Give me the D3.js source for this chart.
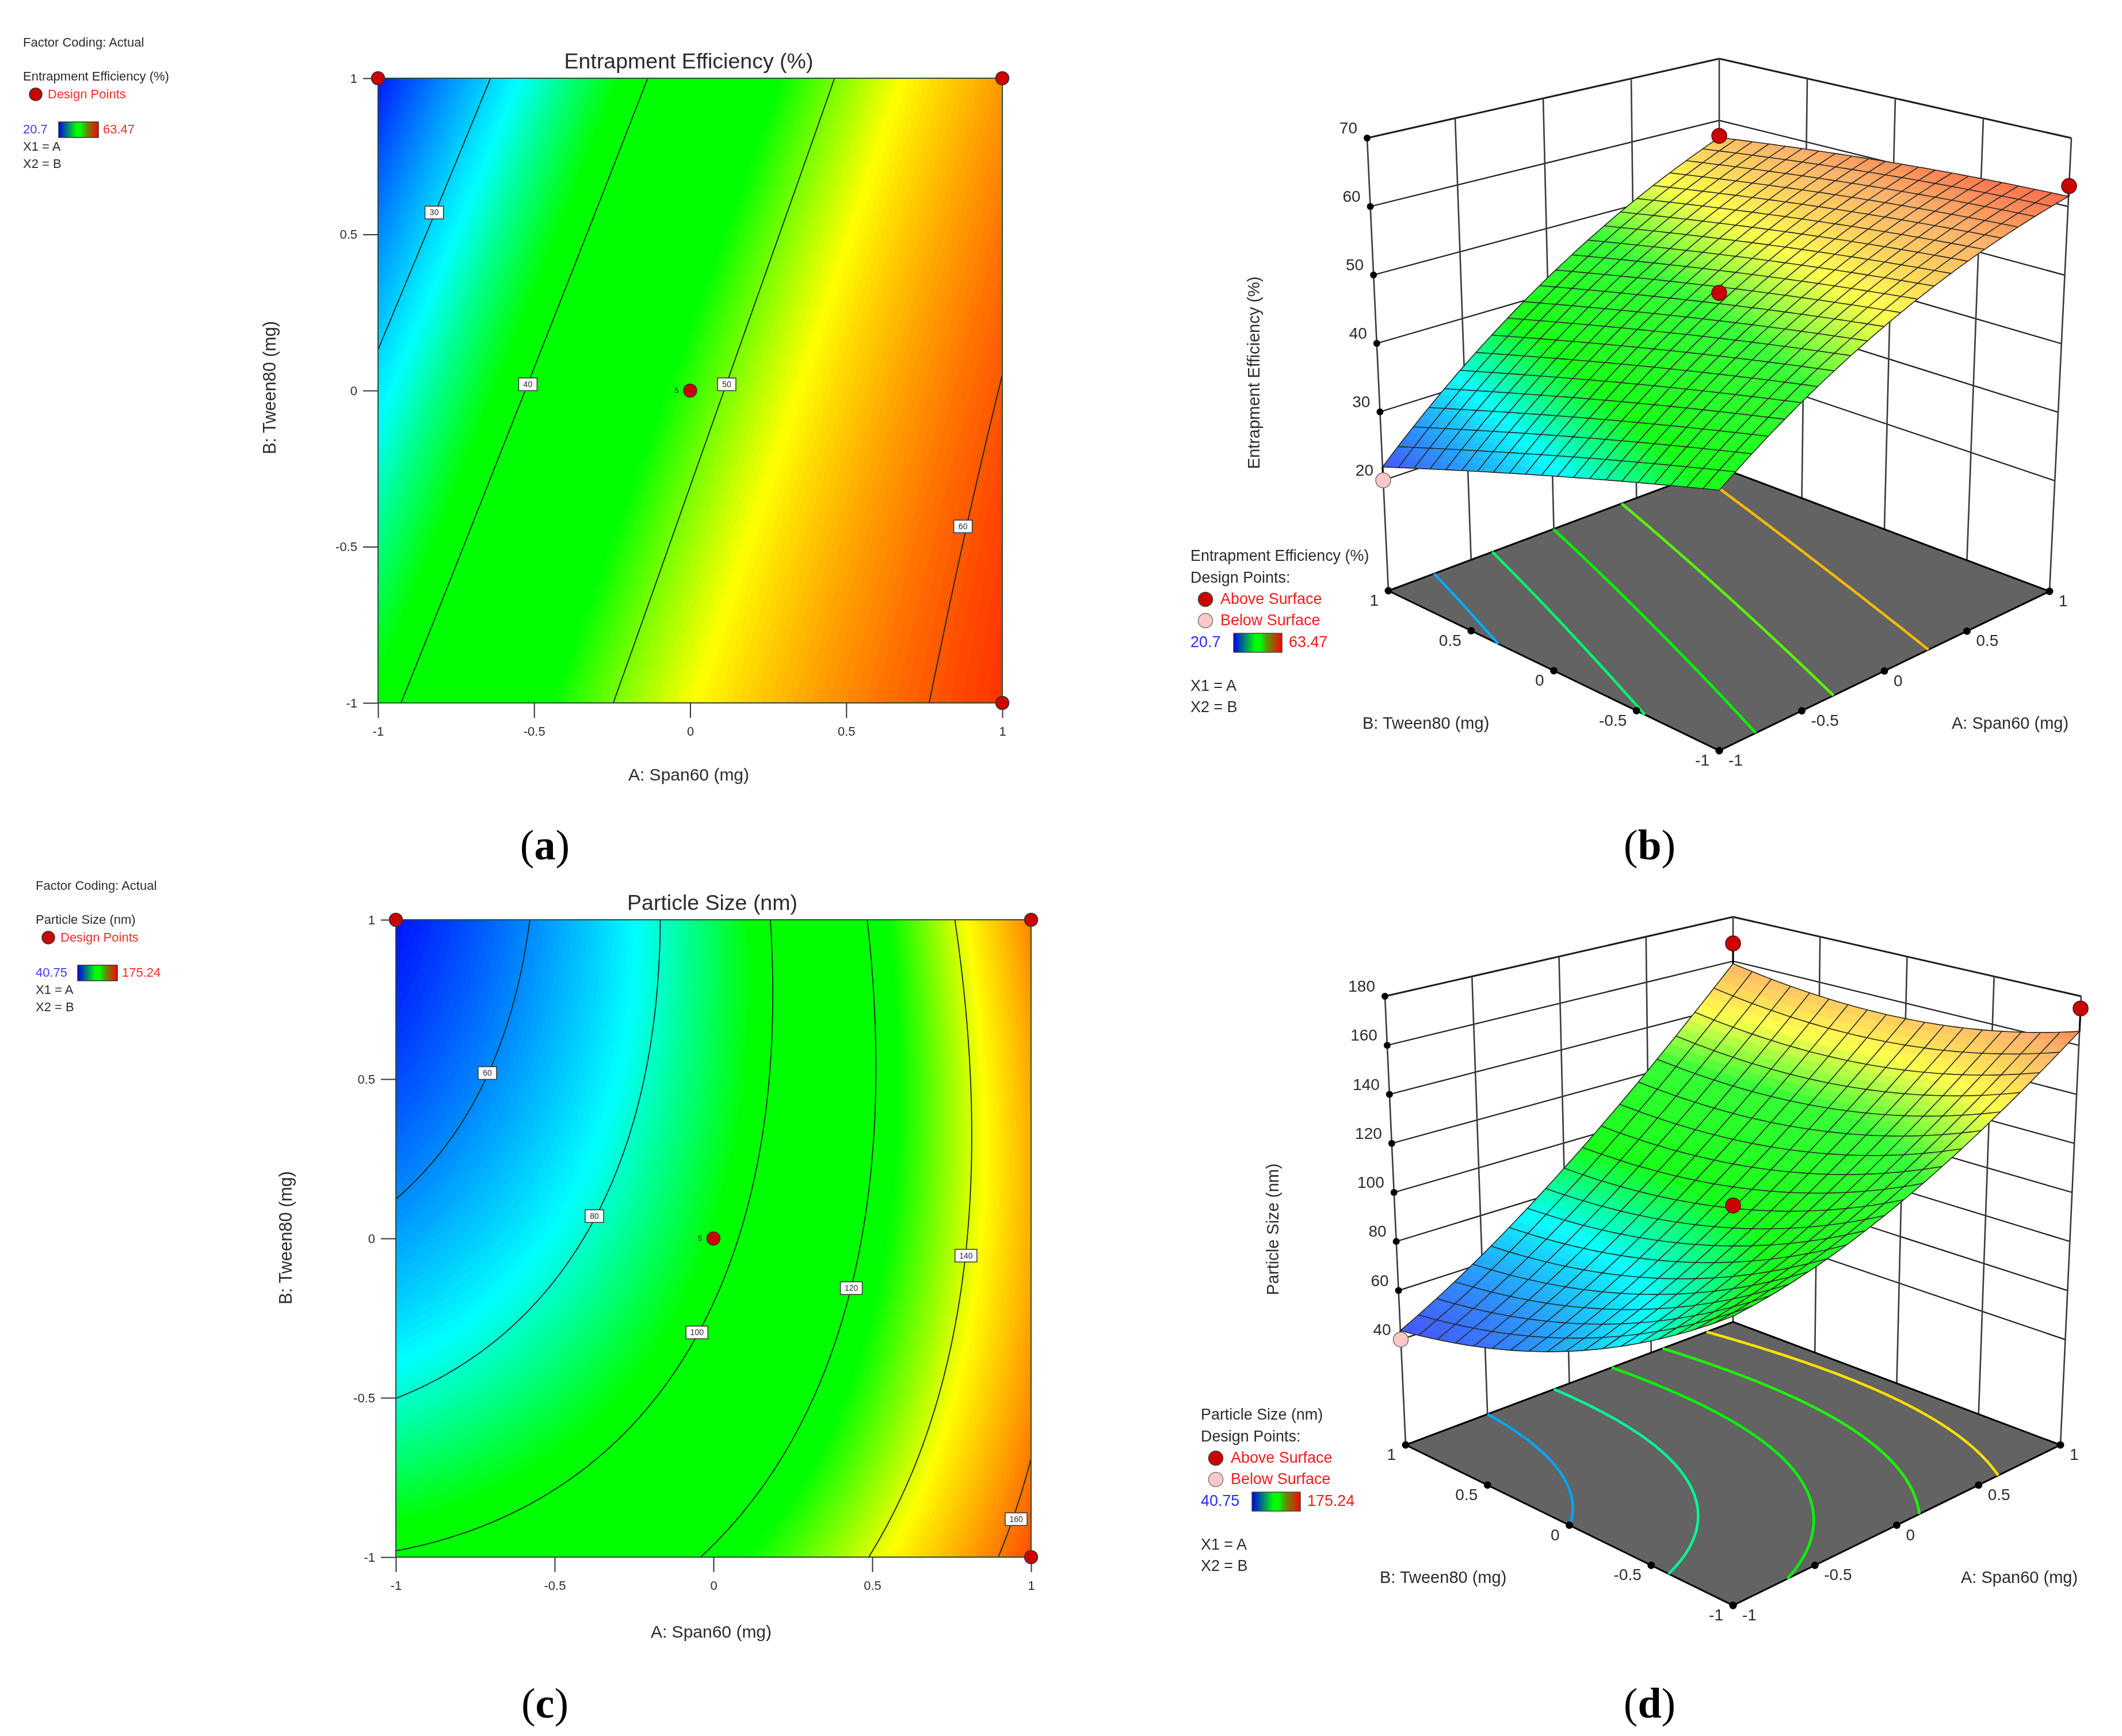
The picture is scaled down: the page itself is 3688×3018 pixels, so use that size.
<!DOCTYPE html>
<html>
<head>
<meta charset="utf-8">
<title>Response surfaces</title>
<script src="https://cdn.jsdelivr.net/npm/d3@7"></script>
<style>
  html, body { margin: 0; padding: 0; background: #fff; }
  svg { display: block; filter: blur(0.7px); }
  text { font-family: "Liberation Sans", Arial, sans-serif; fill: #2b2b2b; }
</style>
</head>
<body>
<div id="chart"></div>
<script>
// Factor levels of the table rows/columns (coded units)
const factorLevels = [-1, -0.5, 0, 0.5, 1];

// Responses. Rows: B = -1 .. 1, columns: A = -1 .. 1
const efficiencyGrid = [
  [38.76, 46.58, 52.97, 57.94, 61.48],
  [35.12, 43.72, 50.90, 56.65, 60.98],
  [31.11, 40.50, 48.46, 55.00, 60.11],
  [26.72, 36.89, 45.64, 52.96, 58.86],
  [21.96, 32.92, 42.45, 50.56, 57.24]
];
const sizeGrid = [
  [100.9, 108.1, 121.3, 140.5, 165.7],
  [79.93, 90.28, 106.63, 128.98, 157.33],
  [63.4, 76.9, 96.4, 121.9, 153.4],
  [51.33, 67.98, 90.63, 119.28, 153.93],
  [43.7, 63.5, 89.3, 121.1, 158.9]
];

const efficiencyContours = [30, 40, 50, 60];
const sizeContours = [60, 80, 100, 120, 140, 160];
const efficiencyFloorLevels = [28.2, 35.5, 42.4, 49.2, 55.8];
const sizeFloorLevels = [63.5, 84, 105, 126, 146];

// Contour label spots: [A, B, text]
const efficiencyLabels = [[-0.82, 0.57, "30"], [-0.52, 0.02, "40"], [0.117, 0.02, "50"], [0.874, -0.435, "60"]];
const sizeLabels = [[-0.712, 0.519, "60"], [-0.375, 0.07, "80"], [-0.052, -0.295, "100"], [0.434, -0.156, "120"], [0.795, -0.054, "140"], [0.953, -0.881, "160"]];

const designPoints = [[-1, 1], [1, 1], [1, -1], [0, 0]];

// Design points in the 3D views: [A, B, response, above surface?]
const efficiencyPoints3d = [[1, 1, 57.5, true], [1, -1, 63, true], [0, 0, 48.8, true], [-1, 1, 20, false]];
const sizePoints3d = [[1, 1, 168, true], [1, -1, 175, true], [0, 0, 97.5, true], [-1, 1, 40, false]];

const efficiencyTicks = [20, 30, 40, 50, 60, 70];
const sizeTicks = [40, 60, 80, 100, 120, 140, 160, 180];

// Colour ramp of the response (fraction of the legend range)
const rampStops = [0, 0.26, 0.41, 0.62, 0.755, 1];
const rampColors = ["#0000ff", "#00ffff", "#00ff00", "#00ff00", "#ffff00", "#ff0000"];
const ramp = d3.scaleLinear().domain(rampStops).range(rampColors);

// Surfaces are paler than the flat plots
const paleStops = [0, 0.28, 0.55, 0.75, 0.88, 1];
const paleAmount = [0.3, 0.02, 0.17, 0.3, 0.42, 0.22];
const pale = d3.scaleLinear().domain(paleStops).range(paleAmount);

const svg = d3.select("#chart").append("svg")
  .attr("width", 3688)
  .attr("height", 3018)
  .attr("viewBox", "0 0 3688 3018");

const defs = svg.append("defs");
const barGradient = defs.append("linearGradient").attr("id", "legendBar");
[[0, "#0000f0"], [0.45, "#00ff00"], [0.55, "#00ff00"], [0.7, "#5f9000"], [1, "#ff0000"]].forEach(s => {
  barGradient.append("stop").attr("offset", s[0]).attr("stop-color", s[1]);
});

function label(g, x, y, str, size, opts = {}) {
  const t = g.append("text")
    .attr("x", x)
    .attr("y", y)
    .attr("font-size", size)
    .attr("text-anchor", opts.anchor || "start")
    .text(str);
  if (opts.fill) t.style("fill", opts.fill);
  if (opts.rotate) t.attr("transform", `rotate(-90 ${x} ${y})`);
  return t;
}

function weights(t) {
  return factorLevels.map((xi, i) => {
    let w = 1;
    factorLevels.forEach((xj, j) => { if (j !== i) w *= (t - xj) / (xi - xj); });
    return w;
  });
}

// Response at (A, B) between the table entries
function responseAt(grid, a, b) {
  const wa = weights(a), wb = weights(b);
  let sum = 0;
  wb.forEach((vb, j) => wa.forEach((va, i) => { sum += grid[j][i] * va * vb; }));
  return sum;
}

const sampleCount = 161;
const coded = d3.scaleLinear().domain([0.5, sampleCount - 0.5]).range([-1, 1]);

function sampleField(grid) {
  const values = new Float64Array(sampleCount * sampleCount);
  for (let j = 0; j < sampleCount; j++) {
    for (let i = 0; i < sampleCount; i++) {
      values[j * sampleCount + i] = responseAt(grid, coded(i + 0.5), coded(j + 0.5));
    }
  }
  return values;
}

// Contour lines as open runs in coded units, without the parts along the domain edge
function contourRuns(values, level) {
  const shape = d3.contours().size([sampleCount, sampleCount]).smooth(true).contour(values, level);
  const onEdge = p => p[0] <= 0 || p[1] <= 0 || p[0] >= sampleCount || p[1] >= sampleCount;
  const runs = [];
  shape.coordinates.forEach(polygon => polygon.forEach(ring => {
    const start = ring.findIndex(onEdge);
    if (start < 0) { runs.push(ring); return; }
    let run = [];
    for (let k = 0; k <= ring.length; k++) {
      const p = ring[(start + k) % ring.length];
      if (onEdge(p)) {
        if (run.length > 1) runs.push(run);
        run = [];
      } else {
        run.push(p);
      }
    }
    if (run.length > 1) runs.push(run);
  }));
  return runs.map(run => run.map(p => [coded(p[0]), coded(p[1])]));
}

function drawLegend2d(cfg) {
  const g = svg.append("g");
  const x = cfg.legend.x;
  label(g, x, cfg.legend.y, "Factor Coding: Actual", 22);
  label(g, x, cfg.legend.y + 59, cfg.name, 22);
  g.append("circle").attr("cx", x + 22).attr("cy", cfg.legend.y + 83).attr("r", 11)
    .attr("fill", "#cc0000").attr("stroke", "#333").attr("stroke-width", 1.5);
  label(g, x + 43, cfg.legend.y + 90, "Design Points", 22, { fill: "#ff2a2a" });
  label(g, x, cfg.legend.y + 151, cfg.min, 22, { fill: "#3a3aff" });
  g.append("rect").attr("x", x + cfg.legend.barDx).attr("y", cfg.legend.y + 131)
    .attr("width", 69).attr("height", 27)
    .attr("fill", "url(#legendBar)").attr("stroke", "#333").attr("stroke-width", 1.5);
  label(g, x + cfg.legend.barDx + 77, cfg.legend.y + 151, cfg.max, 22, { fill: "#ff2a2a" });
  label(g, x, cfg.legend.y + 181, "X1 = A", 22);
  label(g, x, cfg.legend.y + 211, "X2 = B", 22);
}

function drawContourPlot(cfg) {
  drawLegend2d(cfg);
  const g = svg.append("g");
  const xScale = d3.scaleLinear().domain([-1, 1]).range([cfg.left, cfg.right]);
  const yScale = d3.scaleLinear().domain([-1, 1]).range([cfg.bottom, cfg.top]);
  const t = d3.scaleLinear().domain([cfg.zMin, cfg.zMax]).range([0, 1]);
  const values = sampleField(cfg.grid);

  defs.append("clipPath").attr("id", cfg.id + "-clip")
    .append("rect")
    .attr("x", cfg.left).attr("y", cfg.top)
    .attr("width", cfg.right - cfg.left).attr("height", cfg.bottom - cfg.top);

  const plot = g.append("g").attr("clip-path", `url(#${cfg.id}-clip)`);
  plot.append("rect")
    .attr("x", cfg.left).attr("y", cfg.top)
    .attr("width", cfg.right - cfg.left).attr("height", cfg.bottom - cfg.top)
    .attr("fill", ramp(0));

  // Smooth shading: nested contour bands, each painted over the one below
  const path = d3.geoPath(d3.geoTransform({
    point(x, y) { this.stream.point(xScale(coded(x)), yScale(coded(y))); }
  }));
  const bands = d3.contours()
    .size([sampleCount, sampleCount])
    .thresholds(d3.range(cfg.zMin, cfg.zMax, (cfg.zMax - cfg.zMin) / 170))(values);
  plot.selectAll("path.band").data(bands).enter().append("path")
    .attr("class", "band")
    .attr("d", path)
    .attr("fill", d => ramp(t(d.value)));

  const line = d3.line().x(d => xScale(d[0])).y(d => yScale(d[1]));
  cfg.levels.forEach(level => {
    contourRuns(values, level).forEach(run => {
      plot.append("path").attr("d", line(run))
        .attr("fill", "none").attr("stroke", "#14281e").attr("stroke-width", 1.8);
    });
  });

  g.append("rect")
    .attr("x", cfg.left).attr("y", cfg.top)
    .attr("width", cfg.right - cfg.left).attr("height", cfg.bottom - cfg.top)
    .attr("fill", "none").attr("stroke", "#2a4a3a").attr("stroke-width", 2);

  // Axes
  const xAxis = g.append("g").attr("transform", `translate(0,${cfg.bottom})`)
    .call(d3.axisBottom(xScale).tickValues(factorLevels).tickFormat(String).tickSize(26).tickPadding(15));
  const yAxis = g.append("g").attr("transform", `translate(${cfg.left},0)`)
    .call(d3.axisLeft(yScale).tickValues(factorLevels).tickFormat(String).tickSize(26).tickPadding(10));
  [xAxis, yAxis].forEach(axis => {
    axis.select(".domain").remove();
    axis.selectAll("line").attr("stroke", "#333").attr("stroke-width", 2);
    axis.selectAll("text").attr("font-size", 22).style("font-family", '"Liberation Sans", Arial, sans-serif');
  });

  // Contour labels
  cfg.labels.forEach(d => {
    const w = d[2].length > 2 ? 38 : 32;
    g.append("rect")
      .attr("x", xScale(d[0]) - w / 2).attr("y", yScale(d[1]) - 11)
      .attr("width", w).attr("height", 22)
      .attr("fill", "#fff").attr("stroke", "#333").attr("stroke-width", 1.5);
    label(g, xScale(d[0]), yScale(d[1]) + 5, d[2], 14, { anchor: "middle" });
  });

  // Design points
  designPoints.forEach(d => {
    g.append("circle")
      .attr("cx", xScale(d[0])).attr("cy", yScale(d[1])).attr("r", 11.5)
      .attr("fill", "#cc0000").attr("stroke", "#333").attr("stroke-width", 1.5);
  });
  label(g, xScale(0) - 27, yScale(0) + 4, "5", 13);

  label(g, cfg.titleX, cfg.top - 17, cfg.name2d, 37.5, { anchor: "middle" });
  label(g, cfg.xLabelX, cfg.xLabelY, "A: Span60 (mg)", 30, { anchor: "middle" });
  label(g, cfg.yLabelX, cfg.yLabelY, "B: Tween80 (mg)", 30.5, { anchor: "middle", rotate: true });
}

function drawLegend3d(cfg) {
  const g = svg.append("g");
  const x = cfg.legend.x, y = cfg.legend.y;
  label(g, x, y, cfg.name, 26.9);
  label(g, x, y + 38, "Design Points:", 26.9);
  g.append("circle").attr("cx", x + 26).attr("cy", y + 67).attr("r", 12.5)
    .attr("fill", "#cc0000").attr("stroke", "#444").attr("stroke-width", 1.5);
  label(g, x + 52, y + 75, "Above Surface", 26.9, { fill: "#ff1a1a" });
  g.append("circle").attr("cx", x + 26).attr("cy", y + 104).attr("r", 12.5)
    .attr("fill", "#ffc8c8").attr("stroke", "#777").attr("stroke-width", 1.5);
  label(g, x + 52, y + 112, "Below Surface", 26.9, { fill: "#ff1a1a" });
  label(g, x, y + 150, cfg.min, 26.9, { fill: "#2a2aff" });
  g.append("rect").attr("x", x + cfg.legend.barDx).attr("y", y + 126)
    .attr("width", 84).attr("height", 33)
    .attr("fill", "url(#legendBar)").attr("stroke", "#444").attr("stroke-width", 1.5);
  label(g, x + cfg.legend.barDx + 96, y + 150, cfg.max, 26.9, { fill: "#ff1a1a" });
  label(g, x, y + 226, "X1 = A", 26.9);
  label(g, x, y + 263, "X2 = B", 26.9);
}

function drawSurfacePlot(cfg) {
  drawLegend3d(cfg);
  const g = svg.append("g");
  const unit = d3.scaleLinear().domain([-1, 1]).range([0, 1]);
  const zUnit = d3.scaleLinear().domain([cfg.zFloor, cfg.zTop]).range([0, 1]);
  const t = d3.scaleLinear().domain([cfg.zMin, cfg.zMax]).range([0, 1]);
  const box = cfg.box;

  // Corner-blended projection of (A, B, response) to the page
  function project(a, b, z) {
    const u = unit(a), v = unit(b), w = zUnit(z);
    const blend = k => {
      const floorK = (1 - u) * (1 - v) * box.front[k] + u * (1 - v) * box.right[k] + (1 - u) * v * box.left[k] + u * v * box.back[k];
      const topK = (1 - u) * (1 - v) * box.frontTop[k] + u * (1 - v) * box.rightTop[k] + (1 - u) * v * box.leftTop[k] + u * v * box.backTop[k];
      return floorK + (topK - floorK) * w;
    };
    return [blend(0), blend(1)];
  }
  const line = d3.line();
  const seg = (p, q, color, width) => g.append("path").attr("d", line([p, q]))
    .attr("fill", "none").attr("stroke", color).attr("stroke-width", width);

  // Walls
  cfg.ticks.forEach(z => {
    const isTop = z === cfg.zTop;
    seg(project(-1, 1, z), project(1, 1, z), "#1c1c1c", isTop ? 3 : 2.2);
    seg(project(1, 1, z), project(1, -1, z), "#1c1c1c", isTop ? 3 : 2.2);
  });
  factorLevels.forEach(level => {
    seg(project(level, 1, cfg.zFloor), project(level, 1, cfg.zTop), "#3a3a3a", 2.6);
    if (level < 1) seg(project(1, level, cfg.zFloor), project(1, level, cfg.zTop), "#3a3a3a", 2.6);
  });

  // Floor
  g.append("path")
    .attr("d", line([project(-1, 1, cfg.zFloor), project(1, 1, cfg.zFloor), project(1, -1, cfg.zFloor), project(-1, -1, cfg.zFloor)]) + "Z")
    .attr("fill", "#636363").attr("stroke", "#000").attr("stroke-width", 3);

  const values = sampleField(cfg.grid);
  cfg.floorLevels.forEach(level => {
    contourRuns(values, level).forEach(run => {
      g.append("path").attr("d", line(run.map(p => project(p[0], p[1], cfg.zFloor))))
        .attr("fill", "none").attr("stroke", ramp(t(level))).attr("stroke-width", 4.5);
    });
  });

  // Floor tick dots and labels
  factorLevels.forEach(level => {
    const pb = project(-1, level, cfg.zFloor), pa = project(level, -1, cfg.zFloor);
    g.append("circle").attr("cx", pb[0]).attr("cy", pb[1]).attr("r", 6.5).attr("fill", "#000");
    g.append("circle").attr("cx", pa[0]).attr("cy", pa[1]).attr("r", 6.5).attr("fill", "#000");
    label(g, pb[0] - 17, pb[1] + 26, String(level), 28, { anchor: "end" });
    label(g, pa[0] + 16, pa[1] + 26, String(level), 28);
  });

  // Surface, back to front
  const sub = 3, cells = cfg.meshCells * sub;
  const step = d3.scaleLinear().domain([0, cells]).range([-1, 1]);
  const surface = g.append("g");
  for (let i = cells - 1; i >= 0; i--) {
    for (let j = cells - 1; j >= 0; j--) {
      const a0 = step(i), a1 = step(i + 1), b0 = step(j), b1 = step(j + 1);
      const mid = t(responseAt(cfg.grid, (a0 + a1) / 2, (b0 + b1) / 2));
      const color = d3.interpolateRgb(ramp(mid), "#fff")(pale(mid));
      surface.append("path")
        .attr("d", line([
          project(a0, b0, responseAt(cfg.grid, a0, b0)),
          project(a1, b0, responseAt(cfg.grid, a1, b0)),
          project(a1, b1, responseAt(cfg.grid, a1, b1)),
          project(a0, b1, responseAt(cfg.grid, a0, b1))
        ]) + "Z")
        .attr("fill", color).attr("stroke", color).attr("stroke-width", 1);
    }
  }

  // Mesh lines
  d3.range(cfg.meshCells + 1).forEach(k => {
    const level = -1 + 2 * k / cfg.meshCells;
    const alongA = d3.range(cells + 1).map(i => project(step(i), level, responseAt(cfg.grid, step(i), level)));
    const alongB = d3.range(cells + 1).map(i => project(level, step(i), responseAt(cfg.grid, level, step(i))));
    [alongA, alongB].forEach(pts => {
      surface.append("path").attr("d", line(pts))
        .attr("fill", "none").attr("stroke", "#262626").attr("stroke-width", 1.6);
    });
  });

  // Response axis on the left edge
  cfg.ticks.forEach(z => {
    const p = project(-1, 1, z);
    g.append("circle").attr("cx", p[0]).attr("cy", p[1]).attr("r", 6).attr("fill", "#000");
    label(g, p[0] - 17, p[1] - 8, String(z), 28, { anchor: "end" });
  });

  // Design points with their stems to the surface
  cfg.points.forEach(d => {
    const p = project(d[0], d[1], d[2]);
    seg(p, project(d[0], d[1], responseAt(cfg.grid, d[0], d[1])), "#000", 3);
    g.append("circle").attr("cx", p[0]).attr("cy", p[1]).attr("r", 13)
      .attr("fill", d[3] ? "#cc0000" : "#ffc8c8")
      .attr("stroke", d[3] ? "#551111" : "#777").attr("stroke-width", 1.6);
  });

  label(g, cfg.aLabel[0], cfg.aLabel[1], "A: Span60 (mg)", 29);
  label(g, cfg.bLabel[0], cfg.bLabel[1], "B: Tween80 (mg)", 29);
  label(g, cfg.zLabel[0], cfg.zLabel[1], cfg.name, 29, { anchor: "middle", rotate: true });
}

function panelLetter(x, y, letter) {
  const t = svg.append("text")
    .attr("x", x).attr("y", y)
    .attr("text-anchor", "middle")
    .attr("font-size", 74)
    .style("font-family", '"Liberation Serif", "Times New Roman", serif')
    .style("fill", "#000");
  t.append("tspan").text("(");
  t.append("tspan").attr("font-weight", "bold").text(letter);
  t.append("tspan").text(")");
}

drawContourPlot({
  id: "a", grid: efficiencyGrid, name: "Entrapment Efficiency (%)", name2d: "Entrapment Efficiency (%)",
  min: "20.7", max: "63.47", zMin: 20.7, zMax: 63.47,
  levels: efficiencyContours, labels: efficiencyLabels,
  left: 657, right: 1742, top: 136, bottom: 1222,
  titleX: 1197, xLabelX: 1197, xLabelY: 1357, yLabelX: 479, yLabelY: 674,
  legend: { x: 40, y: 81, barDx: 62 }
});

drawSurfacePlot({
  grid: efficiencyGrid, name: "Entrapment Efficiency (%)",
  min: "20.7", max: "63.47", zMin: 20.7, zMax: 63.47, zFloor: 3.87, zTop: 70,
  ticks: efficiencyTicks, floorLevels: efficiencyFloorLevels, points: efficiencyPoints3d, meshCells: 21,
  box: {
    left: [2413, 1027], right: [3562, 1028], back: [2988, 812], front: [2988, 1305],
    leftTop: [2376, 240], rightTop: [3600, 240], backTop: [2988, 102], frontTop: [2988, 447]
  },
  aLabel: [3392, 1267], bLabel: [2368, 1267], zLabel: [2189, 648],
  legend: { x: 2069, y: 975, barDx: 75 }
});

drawContourPlot({
  id: "c", grid: sizeGrid, name: "Particle Size (nm)", name2d: "Particle Size (nm)",
  min: "40.75", max: "175.24", zMin: 40.75, zMax: 175.24,
  levels: sizeContours, labels: sizeLabels,
  left: 688, right: 1792, top: 1599, bottom: 2707,
  titleX: 1238, xLabelX: 1236, xLabelY: 2847, yLabelX: 507, yLabelY: 2152,
  legend: { x: 62, y: 1547, barDx: 73 }
});

drawSurfacePlot({
  grid: sizeGrid, name: "Particle Size (nm)",
  min: "40.75", max: "175.24", zMin: 40.75, zMax: 175.24, zFloor: -2.96, zTop: 180,
  ticks: sizeTicks, floorLevels: sizeFloorLevels, points: sizePoints3d, meshCells: 18,
  box: {
    left: [2443, 2512], right: [3581, 2512], back: [3012, 2298], front: [3012, 2791],
    leftTop: [2407, 1732], rightTop: [3617, 1732], backTop: [3012, 1594], frontTop: [3012, 1905]
  },
  aLabel: [3408, 2752], bLabel: [2398, 2752], zLabel: [2222, 2137],
  legend: { x: 2087, y: 2468, barDx: 89 }
});

panelLetter(947, 1494, "a");
panelLetter(2867, 1494, "b");
panelLetter(947, 2986, "c");
panelLetter(2867, 2986, "d");
</script>
</body>
</html>
